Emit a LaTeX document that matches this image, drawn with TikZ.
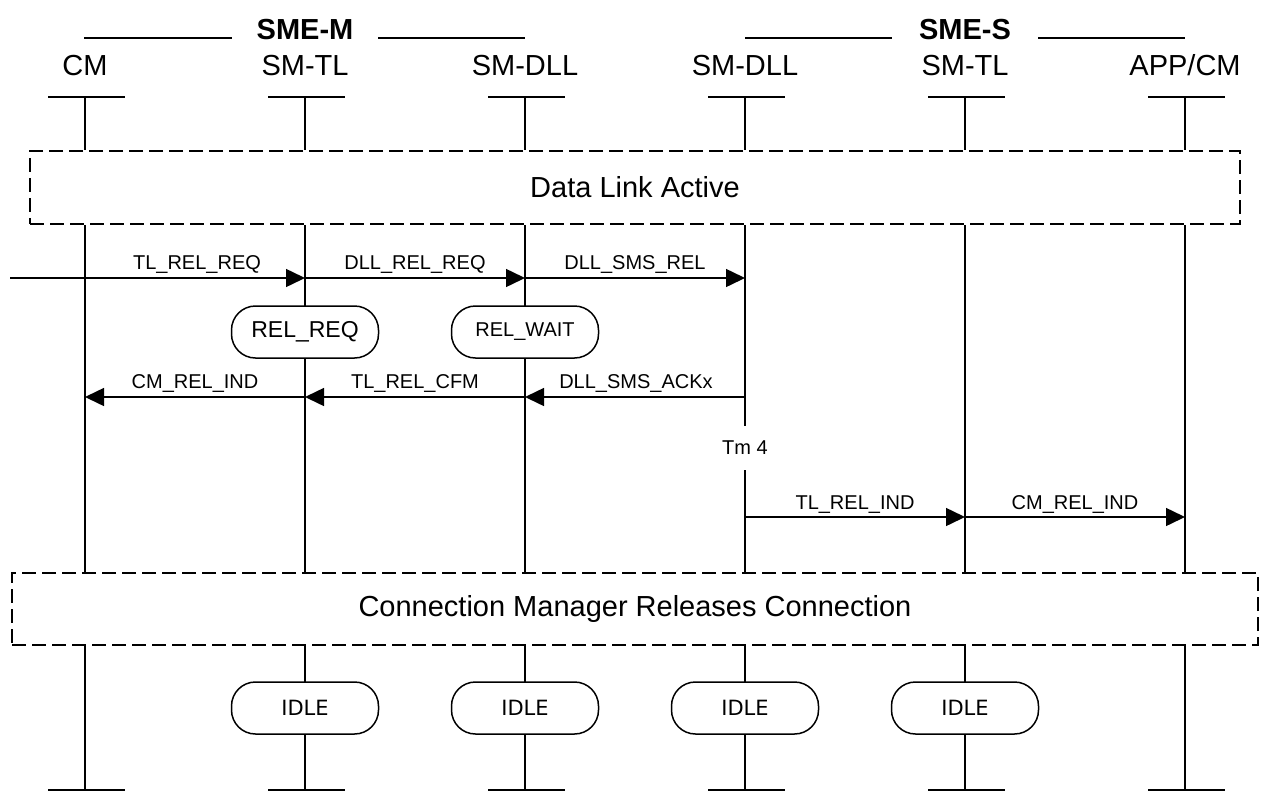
\documentclass[tikz,border=0pt]{standalone}
\usepackage{fontspec}
\setmainfont{Liberation Sans}
\newfontfamily\dejavu{DejaVu Sans}
\usetikzlibrary{arrows.meta}
\begin{document}
\begin{tikzpicture}[x=1pt,y=-1pt,
  life/.style={line width=1.5pt},
  msg/.style={line width=1.5pt,-{Triangle[length=19pt,width=18pt]}},
  lbl/.style={font=\fontsize{20}{24}\selectfont,inner sep=0pt,anchor=base},
  head/.style={font=\fontsize{29}{34}\selectfont,inner sep=0pt,anchor=base},
  grp/.style={font=\bfseries\fontsize{29}{34}\selectfont,inner sep=0pt,anchor=base},
  statebox/.style={draw,line width=1.5pt,rounded corners=24pt,minimum width=147pt,minimum height=52pt,fill=white,inner sep=0pt},
  frame/.style={draw,line width=2pt,dash pattern=on 14pt off 6pt,font=\fontsize{29}{34}\selectfont,inner sep=0pt}
]
\useasboundingbox (0,0) rectangle (1270,793);

% lifeline x positions
\foreach \n/\x in {a/85,b/305,c/525,d/745,e/965,f/1185}{
  \coordinate (\n-top) at (\x,97);
  \coordinate (\n-bot) at (\x,790);
}

% group headings
\node[grp] (smem) at (305,39) {SME-M};
\node[grp] (smes) at (965,39) {SME-S};
\coordinate (gm1) at (84,38);  \coordinate (gm2) at (232,38);
\coordinate (gm3) at (378,38); \coordinate (gm4) at (525,38);
\coordinate (gs1) at (745,38); \coordinate (gs2) at (892,38);
\coordinate (gs3) at (1038,38);\coordinate (gs4) at (1185,38);
\draw[life] (gm1) -- (gm2) (gm3) -- (gm4);
\draw[life] (gs1) -- (gs2) (gs3) -- (gs4);

% instance headings
\node[head] (ha) at (85,75) {CM};
\node[head] (hb) at (305,75) {SM-TL};
\node[head] (hc) at (525,75) {SM-DLL};
\node[head] (hd) at (745,75) {SM-DLL};
\node[head] (he) at (965,75) {SM-TL};
\node[head] (hf) at (1185,75) {APP/CM};

% frames
\node[frame,minimum width=1210pt,minimum height=73pt] (dla) at (635,187.5) {Data Link Active};
\node[frame,minimum width=1246pt,minimum height=72pt] (crm) at (635,609) {Connection Manager Releases Connection};

% top ticks and lifelines
\foreach \n in {a,b,c,d,e,f}{
  \draw[life] ([xshift=-37pt]\n-top) -- ([xshift=40pt]\n-top);
  \draw[life] ([xshift=-37pt]\n-bot) -- ([xshift=40pt]\n-bot);
  \draw[life] (\n-top) -- (\n-top|-dla.north);
  \draw[life] (\n-top|-crm.south) -- (\n-bot);
}
\foreach \n in {a,b,c,e,f}{
  \draw[life] (\n-top|-dla.south) -- (\n-top|-crm.north);
}
% timer on SM-DLL (S side)
\node[lbl,anchor=center,minimum height=44pt] (tm) at (745,448) {Tm 4};
\draw[life] (d-top|-dla.south) -- (tm.north);
\draw[life] (tm.south) -- (d-top|-crm.north);

% message row 1
\coordinate (in1) at (10,278);
\coordinate (b1) at (305,278);
\coordinate (c1) at (525,278);
\coordinate (d1) at (745,278);
\draw[msg] (in1) -- (b1);
\draw[msg] (b1) -- (c1);
\draw[msg] (c1) -- (d1);
\node[lbl] (m1) at (197,269) {TL\_REL\_REQ};
\node[lbl] (m2) at (415,269) {DLL\_REL\_REQ};
\node[lbl] (m3) at (635,269) {DLL\_SMS\_REL};

% states
\node[statebox,font=\fontsize{23}{27}\selectfont] (relreq) at (305,332) {REL\_REQ};
\node[statebox,font=\fontsize{20}{24}\selectfont] (relwait) at (525,332) {REL\_WAIT};

% message row 2
\coordinate (a2) at (85,397);
\coordinate (b2) at (305,397);
\coordinate (c2) at (525,397);
\coordinate (d2) at (745,397);
\draw[msg] (d2) -- (c2);
\draw[msg] (c2) -- (b2);
\draw[msg] (b2) -- (a2);
\node[lbl] (m4) at (195,388) {CM\_REL\_IND};
\node[lbl] (m5) at (415,388) {TL\_REL\_CFM};
\node[lbl] (m6) at (636,388) {DLL\_SMS\_ACKx};

% message row 3
\coordinate (d3) at (745,517);
\coordinate (e3) at (965,517);
\coordinate (f3) at (1185,517);
\draw[msg] (d3) -- (e3);
\draw[msg] (e3) -- (f3);
\node[lbl] (m7) at (855,509) {TL\_REL\_IND};
\node[lbl] (m8) at (1075,509) {CM\_REL\_IND};

% idle states
\foreach \n/\x in {i1/305,i2/525,i3/745,i4/965}{
  \node[statebox,font=\dejavu\fontsize{21}{25}\selectfont] (\n) at (\x,708) {IDLE};
}
\end{tikzpicture}
\end{document}
